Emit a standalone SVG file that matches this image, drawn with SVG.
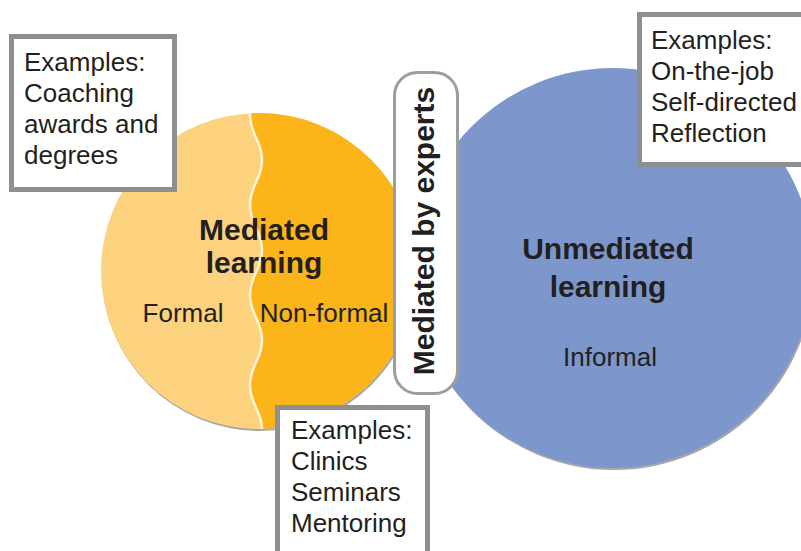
<svg xmlns="http://www.w3.org/2000/svg" width="801" height="551" viewBox="0 0 801 551">
<defs>
<style>
.t{font-family:"Liberation Sans",Arial,sans-serif;font-size:26px;fill:#231f20}
.b{font-family:"Liberation Sans",Arial,sans-serif;font-size:30px;font-weight:bold;fill:#231f20}
.box{fill:#fff;stroke:#8e8f92;stroke-width:5}
.shadow{fill:#a7a7a9}
</style>
<clipPath id="oc"><circle cx="259" cy="271" r="158"/></clipPath>
</defs>
<rect width="801" height="551" fill="#fff"/>
<g id="unmediated">
<circle class="shadow" cx="614" cy="270" r="200"/>
<circle cx="613" cy="268" r="200" fill="#7d97cd"/>
<text class="b" x="608" y="259" text-anchor="middle">Unmediated</text>
<text class="b" x="608" y="297" text-anchor="middle">learning</text>
<text class="t" x="610" y="366" text-anchor="middle">Informal</text>
</g>
<g id="mediated">
<circle class="shadow" cx="260" cy="273" r="158"/>
<circle cx="259" cy="271" r="158" fill="#fdd27f"/>
<path clip-path="url(#oc)" fill="#fbb41a" d="M250,100 L250,115 C250,135 262,140 262,160 S250,185 250,205 S262,230 262,250 S250,275 250,295 S262,320 262,340 S250,365 250,385 S262,410 262,430 S250,455 250,475 L450,475 L450,100 Z"/>
<path clip-path="url(#oc)" fill="none" stroke="#fff4dc" stroke-width="2.5" d="M250,100 L250,115 C250,135 262,140 262,160 S250,185 250,205 S262,230 262,250 S250,275 250,295 S262,320 262,340 S250,365 250,385 S262,410 262,430 S250,455 250,475"/>
<text class="b" x="264" y="240" text-anchor="middle">Mediated</text>
<text class="b" x="264" y="273" text-anchor="middle">learning</text>
<text class="t" x="183" y="322" text-anchor="middle">Formal</text>
<text class="t" x="324" y="322" text-anchor="middle">Non-formal</text>
</g>
<g id="experts">
<rect x="394.5" y="72.5" width="63" height="321" rx="23" fill="#fff" stroke="#9d9d9f" stroke-width="3"/>
<text class="b" transform="translate(434,231) rotate(-90)" text-anchor="middle">Mediated by experts</text>
</g>
<g id="examples-formal">
<rect class="box" x="11.5" y="36.5" width="163" height="153"/>
<text class="t" x="24" y="71">Examples:</text>
<text class="t" x="24" y="102">Coaching</text>
<text class="t" x="24" y="133">awards and</text>
<text class="t" x="24" y="164">degrees</text>
</g>
<g id="examples-informal">
<rect class="box" x="639.5" y="14.5" width="200" height="150"/>
<text class="t" x="651" y="49">Examples:</text>
<text class="t" x="651" y="80">On-the-job</text>
<text class="t" x="651" y="111">Self-directed</text>
<text class="t" x="651" y="142">Reflection</text>
</g>
<g id="examples-nonformal">
<rect class="box" x="277.5" y="407.5" width="150" height="160"/>
<text class="t" x="291" y="439">Examples:</text>
<text class="t" x="291" y="470">Clinics</text>
<text class="t" x="291" y="501">Seminars</text>
<text class="t" x="291" y="532">Mentoring</text>
</g>
<g id="connectors"/>
</svg>
